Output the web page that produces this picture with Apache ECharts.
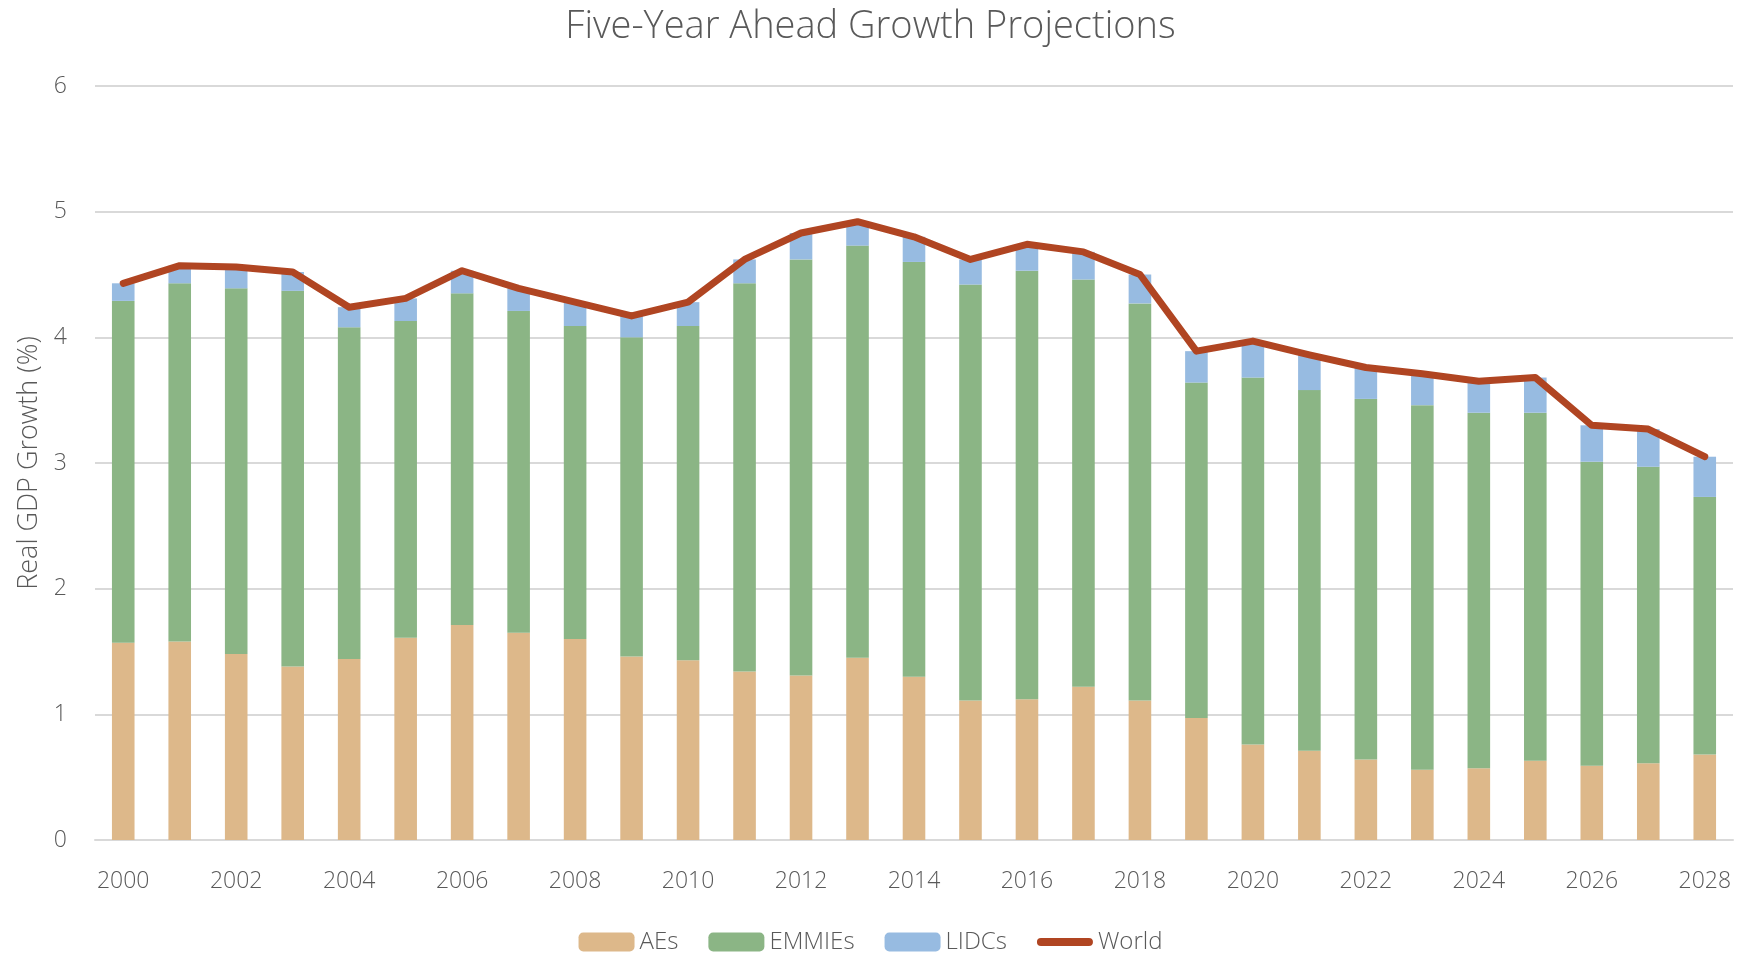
<!DOCTYPE html>
<html>
<head>
<meta charset="utf-8">
<title>Five-Year Ahead Growth Projections</title>
<script src="https://cdn.jsdelivr.net/npm/echarts@6/dist/echarts.min.js"></script>
<style>
  html, body { margin: 0; padding: 0; background: #fff; }
  #chart { width: 1741px; height: 953px; }
</style>
</head>
<body>
<div id="chart"></div>
<script>
    // years on the x axis
    var years = ['2000', '2001', '2002', '2003', '2004', '2005', '2006', '2007', '2008', '2009',
        '2010', '2011', '2012', '2013', '2014', '2015', '2016', '2017', '2018', '2019',
        '2020', '2021', '2022', '2023', '2024', '2025', '2026', '2027', '2028'];

    // contributions to growth (stacked)
    var aes = [1.57, 1.58, 1.48, 1.38, 1.44, 1.61, 1.71, 1.65, 1.60, 1.46,
        1.43, 1.34, 1.31, 1.45, 1.30, 1.11, 1.12, 1.22, 1.11, 0.97,
        0.76, 0.71, 0.64, 0.56, 0.57, 0.63, 0.59, 0.61, 0.68];
    var emmies = [2.72, 2.85, 2.91, 2.99, 2.64, 2.52, 2.64, 2.56, 2.49, 2.54,
        2.66, 3.09, 3.31, 3.28, 3.30, 3.31, 3.41, 3.24, 3.16, 2.67,
        2.92, 2.87, 2.87, 2.90, 2.83, 2.77, 2.42, 2.36, 2.05];
    var lidcs = [0.14, 0.14, 0.17, 0.15, 0.16, 0.18, 0.18, 0.18, 0.19, 0.17,
        0.19, 0.19, 0.21, 0.19, 0.20, 0.20, 0.21, 0.22, 0.23, 0.25,
        0.29, 0.28, 0.25, 0.25, 0.25, 0.28, 0.29, 0.30, 0.32];
    // world total
    var world = [4.43, 4.57, 4.56, 4.52, 4.24, 4.31, 4.53, 4.39, 4.28, 4.17,
        4.28, 4.62, 4.83, 4.92, 4.80, 4.62, 4.74, 4.68, 4.50, 3.89,
        3.97, 3.86, 3.76, 3.71, 3.65, 3.68, 3.30, 3.27, 3.05];

    var textColor = '#595959';
    var fontFamily = '"Open Sans", "Noto Sans", sans-serif';

    // thick line icon for the World legend entry (the first moveTo keeps the icon box full height)
    var lineIcon = 'path://M0,0 M56,19 M4,5.5 L52,5.5 A4,4 0 0 1 52,13.5 L4,13.5 A4,4 0 0 1 4,5.5 Z';

    var chart = echarts.init(document.getElementById('chart'));

    chart.setOption({
        animation: false,
        textStyle: { fontFamily: fontFamily },
        title: {
            text: 'Five-Year Ahead Growth Projections',
            left: 'center',
            top: 3,
            textStyle: {
                color: textColor,
                fontFamily: fontFamily,
                fontWeight: 300,
                fontSize: 38
            }
        },
        legend: {
            top: 925,
            left: 'center',
            itemWidth: 56,
            itemHeight: 19,
            itemGap: 30,
            textStyle: { color: textColor, fontSize: 24, fontWeight: 300 },
            data: ['AEs', 'EMMIEs', 'LIDCs', { name: 'World', icon: lineIcon }]
        },
        grid: {
            left: 95,
            right: 8,
            top: 86,
            bottom: 113
        },
        xAxis: {
            type: 'category',
            data: years,
            axisLine: { lineStyle: { color: '#d9d9d9', width: 2 } },
            axisTick: { show: false },
            axisLabel: {
                interval: 1,
                color: textColor,
                fontSize: 23,
                fontWeight: 300,
                margin: 30
            }
        },
        yAxis: {
            type: 'value',
            min: 0,
            max: 6,
            interval: 1,
            name: 'Real GDP Growth (%)',
            nameLocation: 'middle',
            nameGap: 50,
            nameTextStyle: { color: textColor, fontSize: 27, fontWeight: 300 },
            axisLine: { show: false },
            axisTick: { show: false },
            axisLabel: { color: textColor, fontSize: 23, fontWeight: 300, margin: 28 },
            splitLine: { lineStyle: { color: '#d9d9d9', width: 2 } }
        },
        series: [
            {
                name: 'AEs',
                type: 'bar',
                stack: 'total',
                barWidth: '40%',
                itemStyle: { color: '#ddb88a' },
                data: aes
            },
            {
                name: 'EMMIEs',
                type: 'bar',
                stack: 'total',
                itemStyle: { color: '#8bb585' },
                data: emmies
            },
            {
                name: 'LIDCs',
                type: 'bar',
                stack: 'total',
                itemStyle: { color: '#97bbe1' },
                data: lidcs
            },
            {
                name: 'World',
                type: 'line',
                symbol: 'none',
                z: 5,
                itemStyle: { color: '#b04522' },
                lineStyle: { color: '#b04522', width: 7, cap: 'round', join: 'round' },
                data: world
            }
        ]
    });
</script>
</body>
</html>
